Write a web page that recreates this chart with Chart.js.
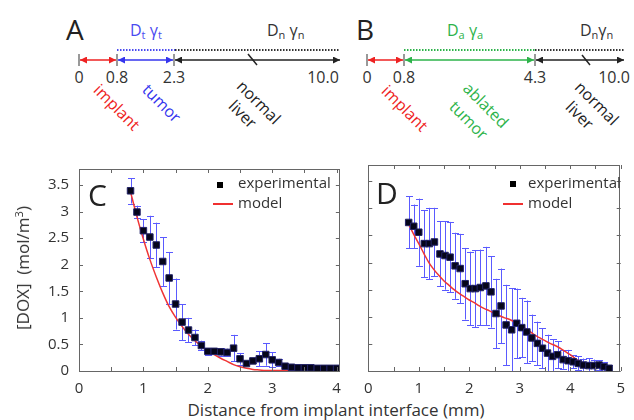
<!DOCTYPE html>
<html><head><meta charset="utf-8">
<script src="https://cdn.jsdelivr.net/npm/chart.js@4.4.1/dist/chart.umd.min.js"></script>
<style>
html,body{margin:0;padding:0;background:#fff;}
#wrap{position:relative;width:634px;height:420px;overflow:hidden;font-family:'Open Sans',sans-serif;color:#333;}
.abs{position:absolute;white-space:nowrap;line-height:1;}
canvas{position:absolute;}
</style></head>
<body><div id="wrap">
<svg width="634" height="145" style="position:absolute;left:0;top:0" font-family="Open Sans, sans-serif">
<defs>
<marker id="mr" viewBox="0 0 10 10" refX="10" refY="5" markerUnits="userSpaceOnUse" markerWidth="8" markerHeight="7" orient="auto-start-reverse"><path d="M0,0 L10,5 L0,10 z" fill="#ee2222"/></marker>
<marker id="mb" viewBox="0 0 10 10" refX="10" refY="5" markerUnits="userSpaceOnUse" markerWidth="8" markerHeight="7" orient="auto-start-reverse"><path d="M0,0 L10,5 L0,10 z" fill="#3535ee"/></marker>
<marker id="mg" viewBox="0 0 10 10" refX="10" refY="5" markerUnits="userSpaceOnUse" markerWidth="8" markerHeight="7" orient="auto-start-reverse"><path d="M0,0 L10,5 L0,10 z" fill="#2db34a"/></marker>
<marker id="mk" viewBox="0 0 10 10" refX="10" refY="5" markerUnits="userSpaceOnUse" markerWidth="8" markerHeight="7" orient="auto-start-reverse"><path d="M0,0 L10,5 L0,10 z" fill="#222"/></marker>
</defs>
<!-- Panel A -->
<text x="66" y="40" font-size="28" fill="#222">A</text>
<text x="130" y="36" font-size="16" fill="#4a4af0">D<tspan font-size="11" dy="3">t</tspan><tspan dy="-3"> γ</tspan><tspan font-size="11" dy="3">t</tspan></text>
<text x="267" y="36" font-size="16" fill="#333">D<tspan font-size="11" dy="3">n</tspan><tspan dy="-3"> γ</tspan><tspan font-size="11" dy="3">n</tspan></text>
<line x1="117" y1="50" x2="175" y2="50" stroke="#4a4af0" stroke-width="2" stroke-dasharray="1.5 1.5"/>
<line x1="175" y1="50" x2="340" y2="50" stroke="#333" stroke-width="2" stroke-dasharray="1.5 1.5"/>
<line x1="79" y1="54" x2="79" y2="66" stroke="#777" stroke-width="1.5"/>
<line x1="117" y1="54" x2="117" y2="66" stroke="#777" stroke-width="1.5"/>
<line x1="174" y1="54" x2="174" y2="66" stroke="#777" stroke-width="1.5"/>
<line x1="80" y1="60" x2="116" y2="60" stroke="#ee2222" stroke-width="1.5" marker-start="url(#mr)" marker-end="url(#mr)"/>
<line x1="118" y1="60" x2="173" y2="60" stroke="#3535ee" stroke-width="1.5" marker-start="url(#mb)" marker-end="url(#mb)"/>
<line x1="175" y1="60" x2="340" y2="60" stroke="#222" stroke-width="1.5" marker-start="url(#mk)" marker-end="url(#mk)"/>
<line x1="248" y1="54" x2="257" y2="65" stroke="#222" stroke-width="1.5"/>
<g font-size="16" fill="#333" text-anchor="middle">
<text x="79" y="83">0</text><text x="117" y="83">0.8</text><text x="174" y="83">2.3</text><text x="323" y="83">10.0</text>
</g>
<g font-size="16" text-anchor="middle" dominant-baseline="central">
<text transform="translate(117,107) rotate(45)" fill="#ee2222">implant</text>
<text transform="translate(162,103) rotate(45)" fill="#3535ee">tumor</text>
<text transform="translate(259,102) rotate(45)" fill="#222">normal</text>
<text transform="translate(243,114) rotate(45)" fill="#222">liver</text>
</g>
<!-- Panel B -->
<text x="356" y="40" font-size="28" fill="#222">B</text>
<text x="447" y="36" font-size="16" fill="#2db34a">D<tspan font-size="11" dy="3">a</tspan><tspan dy="-3"> γ</tspan><tspan font-size="11" dy="3">a</tspan></text>
<text x="580" y="36" font-size="16" fill="#333">D<tspan font-size="11" dy="3">n</tspan><tspan dy="-3">γ</tspan><tspan font-size="11" dy="3">n</tspan></text>
<line x1="404" y1="50" x2="535" y2="50" stroke="#2db34a" stroke-width="2" stroke-dasharray="1.5 1.5"/>
<line x1="535" y1="50" x2="624" y2="50" stroke="#333" stroke-width="2" stroke-dasharray="1.5 1.5"/>
<line x1="367" y1="54" x2="367" y2="66" stroke="#777" stroke-width="1.5"/>
<line x1="404" y1="54" x2="404" y2="66" stroke="#777" stroke-width="1.5"/>
<line x1="535" y1="54" x2="535" y2="66" stroke="#777" stroke-width="1.5"/>
<line x1="368" y1="60" x2="403" y2="60" stroke="#ee2222" stroke-width="1.5" marker-start="url(#mr)" marker-end="url(#mr)"/>
<line x1="405" y1="60" x2="534" y2="60" stroke="#2db34a" stroke-width="1.5" marker-start="url(#mg)" marker-end="url(#mg)"/>
<line x1="536" y1="60" x2="624" y2="60" stroke="#222" stroke-width="1.5" marker-start="url(#mk)" marker-end="url(#mk)"/>
<line x1="582" y1="55" x2="590" y2="65" stroke="#222" stroke-width="1.5"/>
<g font-size="16" fill="#333" text-anchor="middle">
<text x="367" y="83">0</text><text x="404" y="83">0.8</text><text x="535" y="83">4.3</text><text x="614" y="83">10.0</text>
</g>
<g font-size="16" text-anchor="middle" dominant-baseline="central">
<text transform="translate(405,108) rotate(45)" fill="#ee2222">implant</text>
<text transform="translate(486,105) rotate(45)" fill="#2db34a">ablated</text>
<text transform="translate(469,120) rotate(45)" fill="#2db34a">tumor</text>
<text transform="translate(597,103) rotate(45)" fill="#222">normal</text>
<text transform="translate(580,115) rotate(45)" fill="#222">liver</text>
</g>
</svg>

<canvas id="cC" width="350" height="245" style="left:0;top:150px"></canvas>
<canvas id="cD" width="279" height="245" style="left:355px;top:150px"></canvas>

<div class="abs" style="left:88px;top:180px;font-size:30px;color:#222">C</div>
<div class="abs" style="left:376px;top:178px;font-size:30px;color:#222">D</div>

<div class="abs" style="left:217px;top:182px;width:6px;height:6px;background:#000"></div>
<div class="abs" style="left:238px;top:175px;font-size:15px">experimental</div>
<div class="abs" style="left:213px;top:203px;width:20px;height:1.5px;background:#f03030"></div>
<div class="abs" style="left:238px;top:195px;font-size:15px">model</div>

<div class="abs" style="left:510px;top:181px;width:6px;height:6px;background:#000"></div>
<div class="abs" style="left:528px;top:175px;font-size:15px">experimental</div>
<div class="abs" style="left:503px;top:203px;width:20px;height:1.5px;background:#f03030"></div>
<div class="abs" style="left:528px;top:195px;font-size:15px">model</div>

<div class="abs" style="left:22px;top:268px;font-size:17px;transform:translate(-50%,-50%) rotate(-90deg);">[DOX]&nbsp;&nbsp;(mol/m<sup style="font-size:11px;vertical-align:6px">3</sup>)</div>
<div class="abs" style="left:336px;top:401px;font-size:17px;transform:translateX(-50%);">Distance from implant interface (mm)</div>
</div>

<script>
// ---- Data ----
const cX   = [0.8,0.9,1.0,1.1,1.2,1.3,1.4,1.5,1.6,1.7,1.8,1.9,2.0,2.1,2.2,2.3,2.4,2.5,2.6,2.7,2.8,2.9,3.0,3.1,3.2,3.3,3.4,3.5,3.6,3.7,3.8,3.9,4.0];
const cExp = [3.39,2.99,2.64,2.52,2.37,2.06,1.75,1.26,0.92,0.77,0.63,0.48,0.37,0.37,0.36,0.35,0.43,0.23,0.14,0.19,0.23,0.31,0.21,0.16,0.09,0.07,0.06,0.06,0.06,0.05,0.05,0.05,0.05];
const cErr = [0.24,0.12,0.22,0.40,0.42,0.46,0.49,0.48,0.34,0.23,0.15,0.09,0.06,0.05,0.07,0.07,0.25,0.11,0.03,0.04,0.14,0.21,0.14,0.07,0.02,0.02,0.02,0.02,0.02,0.02,0.02,0.02,0.02];
const cModelX = [0.8,0.9,1.0,1.1,1.2,1.3,1.4,1.5,1.6,1.7,1.8,1.9,2.0,2.1,2.2,2.3,2.4,2.5,2.6,2.7,2.8,2.9,3.0,3.5,4.0];
const cModelY = [3.37,2.90,2.48,2.10,1.77,1.47,1.21,1.01,0.84,0.69,0.57,0.47,0.38,0.31,0.24,0.18,0.12,0.08,0.05,0.03,0.02,0.01,0.01,0.005,0.003];

const dX   = [0.80,0.90,1.00,1.11,1.21,1.31,1.42,1.52,1.62,1.72,1.82,1.92,2.02,2.12,2.22,2.33,2.43,2.53,2.63,2.73,2.84,2.94,3.04,3.14,3.24,3.35,3.45,3.55,3.65,3.75,3.86,3.96,4.06,4.16,4.26,4.37,4.47,4.57,4.67,4.77];
const dExp = [2.74,2.67,2.56,2.35,2.35,2.38,2.16,2.13,2.10,1.94,1.89,1.61,1.52,1.52,1.54,1.57,1.46,1.06,1.20,0.85,0.76,0.88,0.80,0.72,0.61,0.51,0.42,0.33,0.27,0.30,0.21,0.19,0.17,0.14,0.11,0.10,0.10,0.11,0.08,0.05];
const dErr = [0.48,0.40,0.62,0.62,0.66,0.63,0.60,0.63,0.65,0.61,0.64,0.66,0.68,0.71,0.70,0.72,0.66,0.64,0.69,0.74,0.77,0.64,0.55,0.58,0.43,0.40,0.37,0.34,0.32,0.25,0.17,0.20,0.12,0.13,0.12,0.14,0.11,0.09,0.08,0.06];
const dModelX = [0.8,0.9,1.0,1.1,1.2,1.3,1.4,1.5,1.6,1.7,1.8,1.9,2.0,2.1,2.2,2.3,2.4,2.5,2.6,2.7,2.8,2.9,3.0,3.1,3.2,3.3,3.4,3.5,3.6,3.7,3.8,3.9,4.0,4.1,4.2,4.3,4.4,4.5,4.6,4.7,4.77];
const dModelY = [2.71,2.52,2.35,2.17,2.00,1.87,1.76,1.66,1.58,1.50,1.43,1.37,1.31,1.26,1.20,1.15,1.11,1.06,1.02,0.98,0.95,0.90,0.84,0.79,0.73,0.66,0.61,0.56,0.51,0.47,0.42,0.36,0.30,0.23,0.17,0.13,0.11,0.09,0.07,0.04,0.03];

const yTickLabels = [0,0.5,1,1.5,2,2.5,3,3.5];
const cXTickLabels = [0,1,2,3,4];
const dXTickLabels = [0,1,2,3,4,5];
const yMinorTicks = [0,0.5,1,1.5,2,2.5,3,3.5];
const cXMinorTicks = [0,0.5,1,1.5,2,2.5,3,3.5,4];
const dXMinorTicks = [0,0.5,1,1.5,2,2.5,3,3.5,4,4.5,5];

// ---- Plugins ----
const frame = {
  id: 'frame',
  afterDraw(chart, args, opts) {
    const {ctx, chartArea: a, scales: {x, y}} = chart;
    ctx.save();
    ctx.strokeStyle = '#666';
    ctx.lineWidth = 1;
    ctx.strokeRect(Math.round(a.left) + 0.5, Math.round(a.top) + 0.5, Math.round(a.right - a.left) - 1, Math.round(a.bottom - a.top));
    ctx.beginPath();
    const L = 4;
    opts.xt.forEach(v => {
      const px = Math.round(x.getPixelForValue(v)) + 0.5;
      ctx.moveTo(px, a.bottom); ctx.lineTo(px, a.bottom - L);
      ctx.moveTo(px, a.top); ctx.lineTo(px, a.top + L);
    });
    opts.yt.forEach(v => {
      const py = Math.round(y.getPixelForValue(v)) + 0.5;
      ctx.moveTo(a.left, py); ctx.lineTo(a.left + L, py);
      ctx.moveTo(a.right, py); ctx.lineTo(a.right - L, py);
    });
    ctx.stroke();
    ctx.restore();
  }
};
const errBars = {
  id: 'errBars',
  beforeDatasetsDraw(chart, args, opts) {
    const {ctx, chartArea: a, scales: {x, y}} = chart;
    ctx.save();
    ctx.beginPath(); ctx.rect(a.left, a.top, a.right - a.left, a.bottom - a.top); ctx.clip();
    ctx.strokeStyle = '#5a5aff';
    ctx.lineWidth = 1;
    ctx.beginPath();
    opts.xs.forEach((xv, i) => {
      const px = Math.round(x.getPixelForValue(xv)) + 0.5;
      const y1 = y.getPixelForValue(opts.ys[i] + opts.es[i]);
      const y2 = y.getPixelForValue(opts.ys[i] - opts.es[i]);
      ctx.moveTo(px, y1); ctx.lineTo(px, y2);
      ctx.moveTo(px - 3.5, Math.round(y1) + 0.5); ctx.lineTo(px + 3.5, Math.round(y1) + 0.5);
      ctx.moveTo(px - 3.5, Math.round(y2) + 0.5); ctx.lineTo(px + 3.5, Math.round(y2) + 0.5);
    });
    ctx.stroke();
    ctx.restore();
  }
};

function makeChart(id, xs, ys, es, mx, my, xmax, xLabels, xMinor, showY, yW, padR) {
  return new Chart(document.getElementById(id), {
    type: 'scatter',
    data: {
      datasets: [
        { data: xs.map((v, i) => ({x: v, y: ys[i]})), pointStyle: 'rect', pointRadius: 4.6,
          backgroundColor: '#05051a', borderColor: '#222266', borderWidth: 1, order: 0 },
        { data: mx.map((v, i) => ({x: v, y: my[i]})), showLine: true, borderColor: '#f03535', borderWidth: 1.5,
          pointRadius: 0, cubicInterpolationMode: 'monotone', fill: false, order: 1 }
      ]
    },
    options: {
      responsive: false, animation: false, devicePixelRatio: 1,
      layout: { padding: { top: 15, right: padR, bottom: 0, left: 0 } },
      plugins: { legend: { display: false }, tooltip: { enabled: false },
        frame: { xt: xMinor, yt: yMinorTicks }, errBars: { xs: xs, ys: ys, es: es } },
      scales: {
        x: { type: 'linear', min: 0, max: xmax,
          afterBuildTicks: s => { s.ticks = xLabels.map(v => ({value: v})); },
          afterFit: s => { s.height = 24; },
          grid: { display: false, drawTicks: false }, border: { display: false },
          ticks: { autoSkip: false, maxRotation: 0, padding: 9, color: '#333',
            font: { family: 'Open Sans', size: 15 }, callback: v => String(v) } },
        y: { type: 'linear', min: 0, max: 3.8,
          afterBuildTicks: s => { s.ticks = yTickLabels.map(v => ({value: v})); },
          afterFit: s => { s.width = yW; },
          grid: { display: false, drawTicks: false }, border: { display: false },
          ticks: { display: showY, padding: 10, color: '#333',
            font: { family: 'Open Sans', size: 15 }, callback: v => String(v) } }
      }
    },
    plugins: [frame, errBars]
  });
}

makeChart('cC', cX, cExp, cErr, cModelX, cModelY, 4.05, cXTickLabels, cXMinorTicks, true, 79, 7);
makeChart('cD', dX, dExp, dErr, dModelX, dModelY, 5, dXTickLabels, dXMinorTicks, false, 13, 7);
</script>
</body></html>
